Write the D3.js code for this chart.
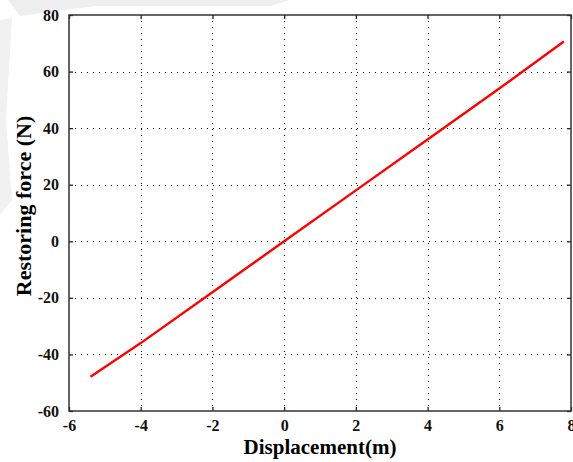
<!DOCTYPE html>
<html>
<head>
<meta charset="utf-8">
<script src="https://cdn.jsdelivr.net/npm/d3@7"></script>
<style>
  body { margin: 0; background: #fff; }
  svg { display: block; }
</style>
</head>
<body>
<div id="chart"></div>
<script>
// values
var displacement = [-5.4, -4, -2, 0, 2, 4, 6, 7.8];
var force = [-47.9, -36, -18, 0, 18, 36, 54, 70.6];
var xTicks = [-6, -4, -2, 0, 2, 4, 6, 8];
var yTicks = [-60, -40, -20, 0, 20, 40, 60, 80];

var width = 573, height = 462;
var margin = {left: 69, right: 2, top: 15, bottom: 51};

var svg = d3.select("#chart").append("svg")
    .attr("width", width)
    .attr("height", height);

// faint watermark shapes in the corner
svg.append("path")
    .attr("d", "M8,0 L290,0 L270,6 L95,6 L20,16 Z")
    .attr("fill", "#efefef");
svg.append("path")
    .attr("d", "M0,20 L12,18 L6,120 L12,200 L0,215 Z")
    .attr("fill", "#f1f1f1");

var x = d3.scaleLinear().domain([-6, 8]).range([margin.left, width - margin.right]);
var y = d3.scaleLinear().domain([-60, 80]).range([height - margin.bottom, margin.top]);

var x0 = x.range()[0], x1 = x.range()[1];
var y0 = y.range()[0], y1 = y.range()[1];

//dotted grid
var grid = svg.append("g")
    .attr("stroke", "#000")
    .attr("stroke-width", 1)
    .attr("stroke-dasharray", "1,5");

grid.selectAll(".vg")
    .data(xTicks.slice(1, -1))
    .join("line")
    .attr("x1", function (d) { return Math.round(x(d)) + 0.5; })
    .attr("x2", function (d) { return Math.round(x(d)) + 0.5; })
    .attr("y1", y1)
    .attr("y2", y0);

grid.selectAll(".hg")
    .data(yTicks.slice(1, -1))
    .join("line")
    .attr("y1", function (d) { return Math.round(y(d)) + 0.5; })
    .attr("y2", function (d) { return Math.round(y(d)) + 0.5; })
    .attr("x1", x0)
    .attr("x2", x1);

// axes, ticks pointing inward on all four sides
var font = "'Liberation Serif', 'Times New Roman', serif";
var fmt = function (d) { return String(d); };

var gBottom = svg.append("g")
    .attr("transform", "translate(0," + y0 + ")")
    .call(d3.axisBottom(x).tickValues(xTicks).tickFormat(fmt).tickSizeInner(-4).tickSizeOuter(0).tickPadding(9));
var gLeft = svg.append("g")
    .attr("transform", "translate(" + x0 + ",0)")
    .call(d3.axisLeft(y).tickValues(yTicks).tickFormat(fmt).tickSizeInner(-4).tickSizeOuter(0).tickPadding(10));
var gTop = svg.append("g")
    .attr("transform", "translate(0," + y1 + ")")
    .call(d3.axisTop(x).tickValues(xTicks).tickSizeInner(-4).tickSizeOuter(0).tickFormat(""));
var gRight = svg.append("g")
    .attr("transform", "translate(" + x1 + ",0)")
    .call(d3.axisRight(y).tickValues(yTicks).tickSizeInner(-4).tickSizeOuter(0).tickFormat(""));

[gBottom, gLeft, gTop, gRight].forEach(function (g) {
    g.select(".domain").remove();
    g.selectAll(".tick line").attr("stroke", "#222").attr("stroke-width", 1.3);
    g.selectAll("text")
        .attr("font-family", font)
        .attr("font-size", 16)
        .attr("font-weight", "bold")
        .attr("fill", "#111");
});

svg.append("rect")
    .attr("x", x0)
    .attr("y", y1)
    .attr("width", x1 - x0)
    .attr("height", y0 - y1)
    .attr("fill", "none")
    .attr("stroke", "#333")
    .attr("stroke-width", 1.5);

// the force-displacement curve
var pts = displacement.map(function (d, i) { return [d, force[i]]; });
svg.append("path")
    .datum(pts)
    .attr("fill", "none")
    .attr("stroke", "#ff0000")
    .attr("stroke-width", 2.4)
    .attr("d", d3.line()
        .x(function (d) { return x(d[0]); })
        .y(function (d) { return y(d[1]); }));

// axis titles
svg.append("text")
    .attr("x", (x0 + x1) / 2)
    .attr("y", 454)
    .attr("text-anchor", "middle")
    .attr("font-family", font)
    .attr("font-size", 21)
    .attr("font-weight", "bold")
    .text("Displacement(m)");

svg.append("text")
    .attr("transform", "translate(31," + 206 + ") rotate(-90)")
    .attr("text-anchor", "middle")
    .attr("font-family", font)
    .attr("font-size", 22)
    .attr("font-weight", "bold")
    .text("Restoring force (N)");
</script>
</body>
</html>
